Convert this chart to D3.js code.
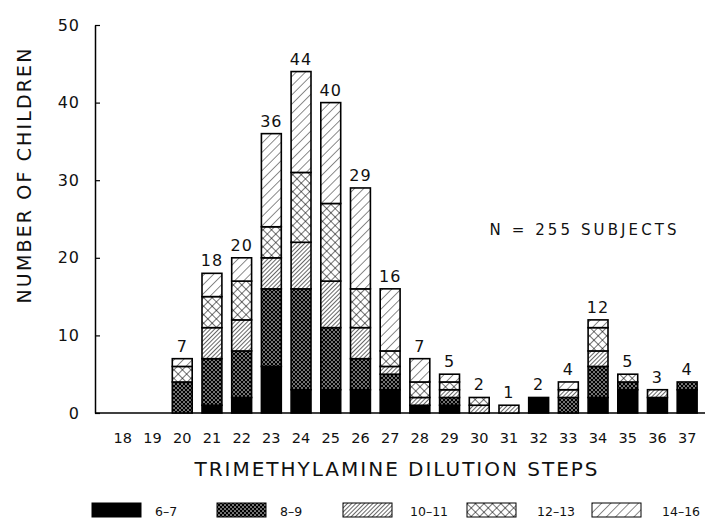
<!DOCTYPE html>
<html>
<head>
<meta charset="utf-8">
<script src="https://cdn.jsdelivr.net/npm/d3@7"></script>
<style>
  body { margin: 0; background: #fff; }
  text { font-family: "DejaVu Sans", sans-serif; fill: #111; }
</style>
</head>
<body>
<div id="chart"></div>
<script>
// dilution steps on the x axis
const steps = [18, 19, 20, 21, 22, 23, 24, 25, 26, 27, 28, 29, 30, 31, 32, 33, 34, 35, 36, 37]

// children per age group, one value per step
const age_6_7   = [0, 0, 0, 1, 2, 6, 3, 3, 3, 3, 1, 1, 0, 0, 2, 0, 2, 3, 2, 3]
const age_8_9   = [0, 0, 4, 6, 6, 10, 13, 8, 4, 2, 0, 1, 0, 0, 0, 2, 4, 1, 0, 1]
const age_10_11 = [0, 0, 0, 4, 4, 4, 6, 6, 4, 1, 1, 1, 1, 1, 0, 1, 2, 0, 1, 0]
const age_12_13 = [0, 0, 2, 4, 5, 4, 9, 10, 5, 2, 2, 1, 1, 0, 0, 0, 3, 1, 0, 0]
const age_14_16 = [0, 0, 1, 3, 3, 12, 13, 13, 13, 8, 3, 1, 0, 0, 0, 1, 1, 0, 0, 0]

const age_groups = ["6-7", "8-9", "10-11", "12-13", "14-16"]
const y_ticks = [0, 10, 20, 30, 40, 50]

const width = 711
const height = 521

const rows = steps.map((s, i) => ({
  step: s,
  "6-7": age_6_7[i],
  "8-9": age_8_9[i],
  "10-11": age_10_11[i],
  "12-13": age_12_13[i],
  "14-16": age_14_16[i]
}))

const svg = d3.select("#chart")
  .append("svg")
  .attr("width", width)
  .attr("height", height)

// fill patterns, one per age group
const defs = svg.append("defs")

const hatch = (id, size, stroke_w, cross) => {
  const p = defs.append("pattern")
    .attr("id", id)
    .attr("patternUnits", "userSpaceOnUse")
    .attr("width", size)
    .attr("height", size)
    .attr("patternTransform", "rotate(45)")
  p.append("rect").attr("width", size).attr("height", size).attr("fill", "#fff")
  p.append("line")
    .attr("x1", 0).attr("y1", 0).attr("x2", 0).attr("y2", size)
    .attr("stroke", "#000").attr("stroke-width", stroke_w)
  if (cross) {
    p.append("line")
      .attr("x1", 0).attr("y1", 0).attr("x2", size).attr("y2", 0)
      .attr("stroke", "#000").attr("stroke-width", stroke_w)
  }
}

const dots = defs.append("pattern")
  .attr("id", "pat-8-9")
  .attr("patternUnits", "userSpaceOnUse")
  .attr("width", 4)
  .attr("height", 4)
dots.append("rect").attr("width", 4).attr("height", 4).attr("fill", "#fff")
for (const [cx, cy] of [[0, 0], [4, 0], [0, 4], [4, 4], [2, 2]]) {
  dots.append("circle").attr("cx", cx).attr("cy", cy).attr("r", 1.5).attr("fill", "#000")
}

hatch("pat-10-11", 3, 1.2, false)
hatch("pat-12-13", 6, 1.1, true)
hatch("pat-14-16", 6.5, 0.9, false)

const fill_for = (key) => key == "6-7" ? "#000" : `url(#pat-${key})`

const x = d3.scaleBand()
  .domain(steps)
  .range([108, 702])
  .paddingInner(0.33)
  .paddingOuter(0.165)

const y = d3.scaleLinear()
  .domain([0, 50])
  .range([413, 25])

// y axis, ticks pointing inward
const y_axis = svg.append("g")
  .attr("transform", "translate(95,0)")
  .call(d3.axisLeft(y).tickValues(y_ticks).tickSize(-5).tickSizeOuter(0).tickPadding(15))
y_axis.select(".domain").attr("stroke", "#000").attr("stroke-width", 1.5)
y_axis.selectAll(".tick line").attr("stroke", "#000").attr("stroke-width", 1.2)
y_axis.selectAll(".tick text")
  .style("font-family", "DejaVu Sans")
  .style("font-size", "16px")
  .attr("letter-spacing", "1px")
  .attr("fill", "#111")

// baseline
svg.append("line")
  .attr("x1", 95).attr("x2", 705)
  .attr("y1", y(0)).attr("y2", y(0))
  .attr("stroke", "#000")
  .attr("stroke-width", 1.5)

// x labels
svg.append("g")
  .selectAll("text")
  .data(steps)
  .join("text")
  .attr("x", d => x(d) + x.bandwidth() / 2)
  .attr("y", 443)
  .attr("text-anchor", "middle")
  .style("font-size", "14.5px")
  .text(d => d)

// stacked bars
const series = d3.stack().keys(age_groups)(rows)

svg.append("g")
  .selectAll("g")
  .data(series)
  .join("g")
  .attr("fill", d => fill_for(d.key))
  .selectAll("rect")
  .data(d => d.filter(v => v[1] > v[0]))
  .join("rect")
  .attr("x", d => x(d.data.step))
  .attr("y", d => y(d[1]))
  .attr("width", x.bandwidth())
  .attr("height", d => y(d[0]) - y(d[1]))
  .attr("stroke", "#000")
  .attr("stroke-width", 1.6)

// totals above bars
const totals = rows.map(r => ({ step: r.step, total: d3.sum(age_groups, k => r[k]) }))
svg.append("g")
  .selectAll("text")
  .data(totals.filter(d => d.total > 0))
  .join("text")
  .attr("x", d => x(d.step) + x.bandwidth() / 2)
  .attr("y", d => y(d.total) - 7)
  .attr("text-anchor", "middle")
  .style("font-size", "16px")
  .attr("letter-spacing", "1px")
  .text(d => d.total)

// axis titles
svg.append("text")
  .attr("transform", "translate(31,176) rotate(-90)")
  .attr("text-anchor", "middle")
  .attr("textLength", 255)
  .style("font-size", "19px")
  .text("NUMBER OF CHILDREN")

svg.append("text")
  .attr("x", 396)
  .attr("y", 476)
  .attr("text-anchor", "middle")
  .attr("textLength", 403)
  .style("font-size", "20px")
  .text("TRIMETHYLAMINE DILUTION STEPS")

svg.append("text")
  .attr("x", 583)
  .attr("y", 235)
  .attr("text-anchor", "middle")
  .attr("textLength", 187)
  .style("font-size", "15px")
  .text("N = 255 SUBJECTS")

// legend
const legend_x = [92, 217, 343, 467, 592]
const legend_dx = [63, 63, 67, 70, 70]
const legend = svg.append("g")
  .selectAll("g")
  .data(age_groups)
  .join("g")
  .attr("transform", (d, i) => `translate(${legend_x[i]},503)`)
legend.append("rect")
  .attr("width", 49)
  .attr("height", 14)
  .attr("fill", d => fill_for(d))
  .attr("stroke", "#000")
  .attr("stroke-width", 1)
legend.append("text")
  .attr("x", (d, i) => legend_dx[i])
  .attr("y", 13)
  .style("font-size", "12.5px")
  .text(d => d.replace("-", "\u2013"))
</script>
</body>
</html>
